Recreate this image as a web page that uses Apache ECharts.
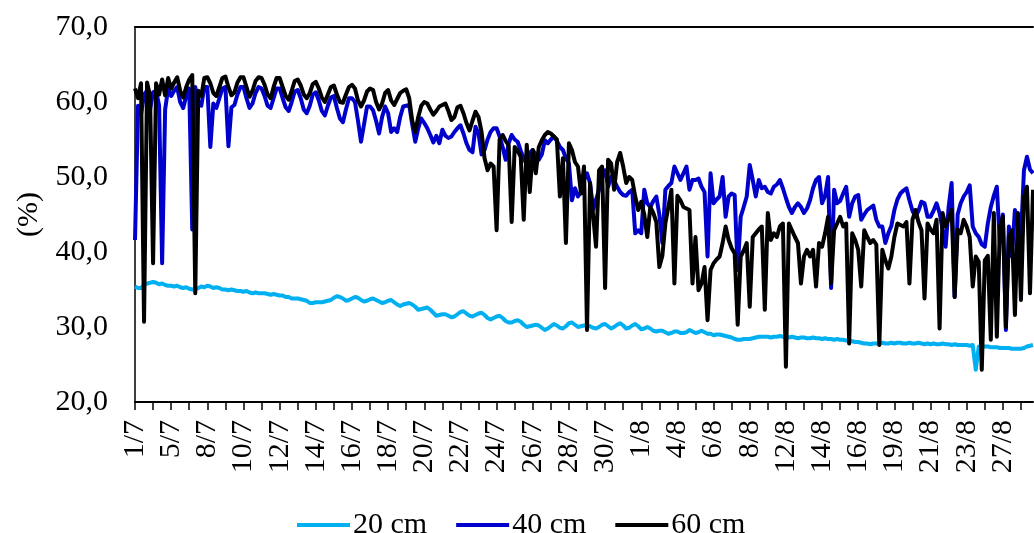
<!DOCTYPE html>
<html>
<head>
<meta charset="utf-8">
<script src="https://cdn.jsdelivr.net/npm/echarts@6/dist/echarts.min.js"></script>
<style>
  html, body { margin: 0; padding: 0; background: #fff; overflow: hidden; }
  #chart { width: 1034px; height: 533px; }
</style>
</head>
<body>
<div id="chart"></div>
<script>
// Axis tick labels (one every 12 samples)
const tickLabels = ['1/7','5/7','8/7','10/7','12/7','14/7','16/7','18/7','20/7','22/7','24/7','26/7','28/7','30/7','1/8','4/8','6/8','8/8','12/8','14/8','16/8','19/8','21/8','23/8','27/8'];
const samplesPerLabel = 12;

// 20 cm
const s20 = [
  35.4, 35.2, 35.2, 35.6, 35.8, 35.9,
  36.0, 35.9, 35.7, 35.8, 35.6, 35.5,
  35.5, 35.4, 35.5, 35.3, 35.2, 35.3,
  35.1, 35.0, 35.0, 35.2, 35.4, 35.3,
  35.5, 35.4, 35.2, 35.3, 35.2, 35.0,
  35.0, 34.9, 35.0, 34.9, 34.8, 34.8,
  34.7, 34.8, 34.6, 34.5, 34.6, 34.5,
  34.5, 34.5, 34.4, 34.3, 34.4, 34.3,
  34.2, 34.2, 34.0, 34.0, 33.8, 33.8,
  33.8, 33.7, 33.6, 33.5, 33.2, 33.2,
  33.3, 33.3, 33.3, 33.4, 33.5, 33.6,
  33.9, 34.1, 34.0, 33.8, 33.5, 33.6,
  33.8, 34.0, 33.9, 33.6, 33.4, 33.5,
  33.7, 33.8, 33.6, 33.4, 33.2, 33.3,
  33.5, 33.6, 33.3, 33.0, 32.8, 33.0,
  33.1, 33.2, 33.0, 32.7, 32.3, 32.4,
  32.5, 32.6, 32.3, 31.9, 31.5, 31.6,
  31.7, 31.7, 31.5, 31.3, 31.4, 31.7,
  32.0, 32.1, 31.8, 31.5, 31.4, 31.6,
  31.8, 31.9, 31.6, 31.2, 31.0, 31.2,
  31.4, 31.5, 31.2, 30.8, 30.6, 30.6,
  30.8, 30.9, 30.7, 30.3, 30.0, 30.1,
  30.2, 30.3, 30.2, 29.9, 29.6, 29.8,
  30.1, 30.4, 30.2, 29.9, 29.8, 30.1,
  30.5, 30.6, 30.3, 30.0, 30.1, 30.2,
  30.2, 30.1, 29.9, 29.8, 30.0, 30.3,
  30.4, 30.1, 29.8, 30.0, 30.3, 30.5,
  30.2, 29.8, 29.9, 30.2, 30.4, 30.1,
  29.7, 29.8, 30.0, 29.8, 29.5, 29.4,
  29.5, 29.5, 29.3, 29.1, 29.2, 29.4,
  29.4, 29.2, 29.2, 29.3, 29.6, 29.4,
  29.2, 29.3, 29.5, 29.3, 29.1, 29.1,
  28.9, 29.0, 29.0, 28.9, 28.8, 28.7,
  28.6, 28.4, 28.3, 28.3, 28.4, 28.4,
  28.4, 28.5, 28.6, 28.7, 28.7, 28.7,
  28.7, 28.6, 28.7, 28.7, 28.8, 28.7,
  28.7, 28.6, 28.7, 28.6, 28.5, 28.6,
  28.6, 28.5, 28.5, 28.6, 28.5, 28.5,
  28.4, 28.5, 28.4, 28.4, 28.3, 28.4,
  28.3, 28.3, 28.2, 28.2, 28.1, 28.0,
  28.0, 27.9, 27.8, 27.8, 27.7, 27.8,
  27.8, 27.8, 27.9, 27.8, 27.8, 27.9,
  27.8, 27.9, 27.9, 27.8, 27.8, 27.9,
  27.8, 27.8, 27.9, 27.8, 27.7, 27.8,
  27.7, 27.8, 27.7, 27.7, 27.8, 27.7,
  27.7, 27.6, 27.7, 27.6, 27.6, 27.6,
  27.6, 27.5, 27.6, 24.3, 27.4, 27.4,
  27.4, 27.4, 27.3, 27.3, 27.3, 27.2,
  27.2, 27.2, 27.2, 27.1, 27.1, 27.1,
  27.1, 27.2, 27.4, 27.5, 27.6
];

// 40 cm
const s40 = [
  41.6, 59.5, 58.3, 61.0, 61.5, 59.0,
  61.3, 61.5, 59.5, 38.5, 59.0, 61.8,
  60.8, 61.5, 62.0, 60.0, 59.2, 60.8,
  61.8, 43.0, 62.0, 59.8, 59.5, 62.0,
  62.0, 54.0, 59.8, 59.2, 60.5, 61.8,
  62.0, 54.1, 59.3, 59.6, 61.0, 62.0,
  62.0, 60.5, 59.2, 59.8, 61.2, 62.0,
  61.8, 60.8, 59.5, 59.2, 60.5, 61.8,
  61.8, 60.5, 59.3, 58.8, 60.0, 61.4,
  61.6, 60.5, 59.0, 58.5, 59.5, 61.0,
  61.3, 60.2, 58.8, 58.2, 59.5, 60.6,
  60.8, 59.2, 57.8, 57.3, 59.0, 60.5,
  60.5, 60.0, 57.5, 54.7, 57.0, 59.4,
  59.4, 58.9, 57.5, 55.8, 58.0, 59.4,
  58.5, 56.0, 56.5, 56.0, 58.0, 59.4,
  59.5, 59.6, 57.0, 54.7, 56.5, 57.8,
  57.2, 56.5, 55.6, 54.6, 55.5, 54.5,
  56.3, 55.5, 55.2, 55.4, 56.0, 56.5,
  56.9, 55.8, 54.5, 53.6, 53.3, 56.7,
  55.8, 53.0, 53.6, 55.0, 56.0, 56.5,
  56.5, 55.4, 54.0, 52.3, 54.5, 55.6,
  55.0, 54.7, 53.5, 52.5, 51.6, 53.2,
  53.6, 53.0, 52.3, 53.0, 54.9, 54.5,
  55.0, 55.4, 54.8, 54.0, 53.6, 52.5,
  51.8, 46.9, 48.5, 47.4, 48.0, 49.6,
  50.5, 49.2, 45.6, 47.0, 48.3, 50.0,
  50.9, 48.7, 50.0, 49.5, 48.7, 48.0,
  47.6, 47.5, 48.0, 48.3, 42.5, 42.9,
  42.5, 48.3, 46.5, 46.0, 46.8, 47.4,
  45.0, 41.2, 48.3, 48.8, 49.2, 51.4,
  50.5, 49.6, 50.5, 51.4, 48.3, 49.6,
  49.6, 49.8, 48.7, 48.0, 39.4, 50.5,
  46.5, 47.0, 47.4, 50.0, 44.7, 47.4,
  47.8, 47.6, 37.6, 44.7, 46.0, 47.4,
  51.6, 49.6, 47.4, 49.6, 48.5, 48.7,
  48.0, 47.8, 48.7, 49.0, 49.6, 48.5,
  47.2, 46.0, 45.2, 46.0, 46.5, 46.0,
  45.2, 45.8, 46.9, 48.5, 49.6, 50.0,
  46.5, 47.5, 50.0, 35.2, 48.3, 46.5,
  46.8, 47.8, 48.7, 44.7, 46.5, 47.4,
  47.6, 44.3, 45.0, 45.6, 45.9, 46.2,
  44.3, 43.4, 43.4, 41.2, 42.5, 43.5,
  45.6, 47.0, 47.8, 48.2, 48.5, 46.9,
  45.5, 44.7, 45.5, 46.7, 46.5, 44.7,
  44.7, 45.5, 46.5, 45.2, 43.0, 40.7,
  46.0, 49.2, 34.0, 45.0, 46.5, 47.4,
  48.0, 48.9, 43.4, 42.5, 42.0, 41.0,
  40.7, 43.8, 46.0, 47.5, 48.7, 41.2,
  45.0, 29.6, 43.4, 39.4, 45.6, 44.0,
  42.0, 50.9, 52.7, 51.0, 50.5
];

// 60 cm
const s60 = [
  61.8, 60.5, 62.5, 30.7, 62.6, 60.8,
  38.5, 62.5, 61.0, 63.0, 60.9, 63.2,
  61.8, 62.6, 63.3, 61.5, 60.6, 62.0,
  63.0, 63.6, 34.5, 61.5, 60.8, 63.2,
  63.3, 62.5, 61.2, 60.8, 62.0, 63.2,
  63.4, 62.0, 60.9, 61.3, 62.6, 63.3,
  63.3, 62.0, 60.7, 61.5, 62.8, 63.3,
  63.2, 62.3, 61.0, 60.5, 62.0, 63.2,
  63.2, 62.0, 60.8, 60.3, 61.5, 62.8,
  63.0, 62.2, 61.0, 60.5, 61.2, 62.4,
  62.7, 61.8, 60.6, 60.0, 61.0, 62.0,
  62.2, 61.0, 60.0, 59.9, 61.0, 62.0,
  62.3, 61.8, 60.2, 59.4, 60.2, 61.4,
  61.8, 61.6, 60.0, 59.0, 59.8, 61.2,
  61.6, 60.2, 59.6, 60.4, 61.2, 61.5,
  61.7, 60.5, 57.5, 56.0, 58.0, 59.5,
  60.0, 59.8, 59.0, 58.3, 58.8, 59.4,
  59.6, 59.8, 58.8, 57.6, 58.0, 59.3,
  59.5, 58.5, 57.2, 56.2, 57.5, 58.7,
  58.0, 56.0, 52.5, 50.9, 51.8, 51.4,
  42.9, 55.0, 55.6, 54.8, 54.2, 44.0,
  54.0, 53.5, 52.7, 44.3, 54.3, 48.0,
  53.6, 50.5, 54.0, 54.9, 55.6, 56.0,
  55.8, 55.4, 55.0, 47.4, 52.5, 41.2,
  54.5, 53.6, 52.0, 51.4, 47.8, 51.4,
  29.6, 49.2, 45.0, 40.7, 50.9, 51.4,
  35.2, 52.3, 51.8, 48.3, 52.0, 53.2,
  51.4, 49.2, 50.0, 49.6, 47.4, 45.6,
  46.7, 45.0, 42.0, 46.0, 45.2, 44.0,
  38.0, 39.5, 43.8, 46.0, 48.3, 35.8,
  47.5, 46.9, 46.0, 45.8, 45.6, 35.8,
  42.0, 34.9, 35.8, 38.0, 30.9, 37.6,
  38.5, 39.0, 39.4, 41.2, 43.4, 41.6,
  40.5, 39.8, 30.3, 39.4, 40.2, 41.2,
  32.7, 42.0, 42.5, 43.0, 43.4, 32.3,
  45.2, 41.6, 42.5, 42.0, 43.4, 43.8,
  24.7, 43.8, 42.9, 42.0, 41.2, 35.8,
  39.4, 40.3, 39.4, 40.3, 35.4, 41.2,
  40.7, 42.5, 44.7, 35.8, 42.9, 43.8,
  44.7, 43.4, 43.8, 27.8, 42.5, 41.6,
  40.3, 35.4, 42.9, 42.0, 41.2, 41.6,
  41.0, 27.6, 40.3, 38.9, 37.8, 39.4,
  42.0, 43.8, 43.6, 43.4, 44.0, 35.8,
  44.3, 45.6, 44.0, 42.9, 33.8, 43.8,
  43.0, 42.5, 44.3, 29.8, 45.2, 43.4,
  44.5, 45.6, 34.0, 43.0, 42.5, 44.3,
  43.4, 42.0, 35.4, 39.4, 38.7, 24.3,
  38.9, 39.5, 28.3, 45.2, 28.7, 43.4,
  44.7, 30.0, 42.0, 42.9, 31.6, 45.2,
  33.6, 47.4, 48.7, 34.5, 48.3
];

const seriesNames = ['20 cm', '40 cm', '60 cm'];
const seriesColors = ['#00B0F0', '#0000CC', '#000000'];

// Categories: one per sample, named by the label of the interval it falls in
const categories = s20.map((_, i) => tickLabels[Math.min(Math.floor(i / samplesPerLabel), tickLabels.length - 1)] + '|' + (i % samplesPerLabel));

const FONT = "'Liberation Serif', 'Times New Roman', serif";
const chart = echarts.init(document.getElementById('chart'), null, { renderer: 'canvas' });
chart.setOption({
  animation: false,
  backgroundColor: '#ffffff',
  textStyle: { fontFamily: FONT, color: '#000' },
  grid: { left: 135, right: 1, top: 27, bottom: 131, containLabel: false },
  legend: {
    left: 292, top: 505,
    itemWidth: 53, itemHeight: 4, itemGap: 29,
    icon: 'rect',
    textStyle: { fontFamily: FONT, fontSize: 30, color: '#000', padding: [0, 0, 0, -2] },
    data: seriesNames
  },
  xAxis: [{
    type: 'category',
    data: categories,
    boundaryGap: false,
    axisLine: { show: true, lineStyle: { color: '#000', width: 2 } },
    axisTick: { show: true, interval: samplesPerLabel / 2 - 1, length: 8, lineStyle: { color: '#000', width: 1.5 } },
    axisLabel: {
      interval: samplesPerLabel - 1, rotate: 90, margin: 18,
      fontFamily: FONT, fontSize: 30, color: '#000',
      formatter: v => v.split('|')[0]
    },
    splitLine: { show: false }
  }, {
    type: 'category',
    data: categories,
    boundaryGap: false,
    position: 'top',
    axisLine: { show: true, lineStyle: { color: '#000', width: 2 } },
    axisTick: { show: false },
    axisLabel: { show: false },
    splitLine: { show: false }
  }],
  yAxis: {
    type: 'value',
    min: 20, max: 70, interval: 10,
    name: '(%)',
    nameLocation: 'middle',
    nameGap: 90,
    nameTextStyle: { fontFamily: FONT, fontSize: 30, color: '#000' },
    axisLine: { show: true, lineStyle: { color: '#000', width: 1.5 } },
    axisTick: { show: false },
    splitLine: { show: false },
    axisLabel: {
      margin: 27, fontFamily: FONT, fontSize: 30, color: '#000',
      formatter: v => v.toFixed(1).replace('.', ',')
    }
  },
  series: [s20, s40, s60].map((d, k) => ({
    name: seriesNames[k],
    type: 'line',
    data: d,
    xAxisIndex: 0,
    showSymbol: false,
    symbol: 'none',
    lineStyle: { color: seriesColors[k], width: 4, join: 'round' },
    itemStyle: { color: seriesColors[k] },
    emphasis: { disabled: true }
  }))
});
</script>
</body>
</html>
